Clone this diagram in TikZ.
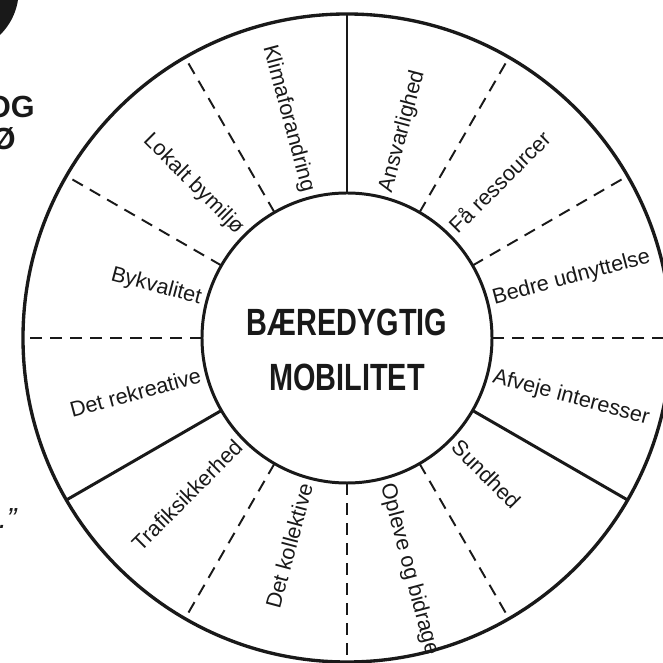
\documentclass[tikz,border=0pt]{standalone}
\usepackage{fontspec}
\setmainfont{Liberation Sans}
\newfontfamily\titlefont{Liberation Sans}[FakeStretch=0.76]
\definecolor{ink}{RGB}{25,25,25}

\begin{document}
\begin{tikzpicture}[
    hub/.style={circle, draw=ink, line width=1.7pt, minimum size=5.8cm, inner sep=0pt, outer sep=0pt},
    rim/.style={circle, draw=ink, line width=1.9pt, minimum size=12.96cm, inner sep=0pt, outer sep=0pt},
    lab/.style={inner sep=0pt, text=ink, font=\fontsize{12.3}{14}\selectfont, text height=1.6ex, text depth=0.4ex},
    cut/.style={-, ink, line width=1.7pt},
    dcut/.style={-, ink, line width=1.1pt, dash pattern=on 0.24cm off 0.16cm}]

    \useasboundingbox (-6.94,-6.5) rectangle (6.32,6.76);
    \clip (-6.94,-6.5) rectangle (6.32,6.76);

    % cut-off bits at the left edge
    \fill[ink] (-7.81,6.95) circle (1.244);
    \node[anchor=base east, inner sep=0pt, text=ink, font=\fontsize{17.4}{20}\selectfont\bfseries] (og) at (-6.24,4.40) {OG};
    \node[anchor=base east, inner sep=0pt, text=ink, font=\fontsize{17.4}{20}\selectfont\bfseries] (oe) at (-6.62,3.76) {Ø};
    \node[anchor=base east, inner sep=0pt, text=ink, font=\fontsize{16.5}{20}\selectfont\itshape] (quote) at (-6.60,-3.80) {.”};

    \node[rim] (rim) at (0,0) {};
    \node[hub] (hub) at (0,0) {};
    \node[text=ink, align=center, font=\titlefont\bfseries\fontsize{21.6}{31.3}\selectfont] (title) at (0,-0.24) {BÆREDYGTIG\\MOBILITET};

    % main dividers
    \draw[cut] (hub.90) -- (rim.90);
    \draw[cut] (hub.210) -- (rim.210);
    \draw[cut] (hub.330) -- (rim.330);

    % sub dividers
    \draw[dcut] (hub.0) -- (rim.0);
    \draw[dcut] (hub.30) -- (rim.30);
    \draw[dcut] (hub.60) -- (rim.60);
    \draw[dcut] (hub.120) -- (rim.120);
    \draw[dcut] (hub.150) -- (rim.150);
    \draw[dcut] (hub.180) -- (rim.180);
    \draw[dcut] (hub.240) -- (rim.240);
    \draw[dcut] (hub.270) -- (rim.270);
    \draw[dcut] (hub.300) -- (rim.300);

    \node[lab, anchor=west, rotate=75] (ansvar) at (75:3.02) {Ansvarlighed};
    \node[lab, anchor=west, rotate=45] (ressourcer) at (45:3.02) {Få ressourcer};
    \node[lab, anchor=west, rotate=15] (udnyttelse) at (15:3.02) {Bedre udnyttelse};
    \node[lab, anchor=west, rotate=-15] (afveje) at (-15:3.02) {Afveje interesser};
    \node[lab, anchor=west, rotate=-45] (sundhed) at (-45:3.02) {Sundhed};
    \node[lab, anchor=west, rotate=-75] (opleve) at (-75:3.02) {Opleve og bidrage};
    \node[lab, anchor=east, rotate=75] (kollektive) at (255:3.02) {Det kollektive};
    \node[lab, anchor=east, rotate=45] (trafik) at (225:3.02) {Trafiksikkerhed};
    \node[lab, anchor=east, rotate=15] (rekreative) at (195:3.02) {Det rekreative};
    \node[lab, anchor=east, rotate=-15] (bykvalitet) at (165:3.02) {Bykvalitet};
    \node[lab, anchor=east, rotate=-45] (bymiljo) at (135:3.02) {Lokalt bymiljø};
    \node[lab, anchor=east, rotate=-75] (klima) at (105:3.02) {Klimaforandring};
  \end{tikzpicture}
\end{document}
